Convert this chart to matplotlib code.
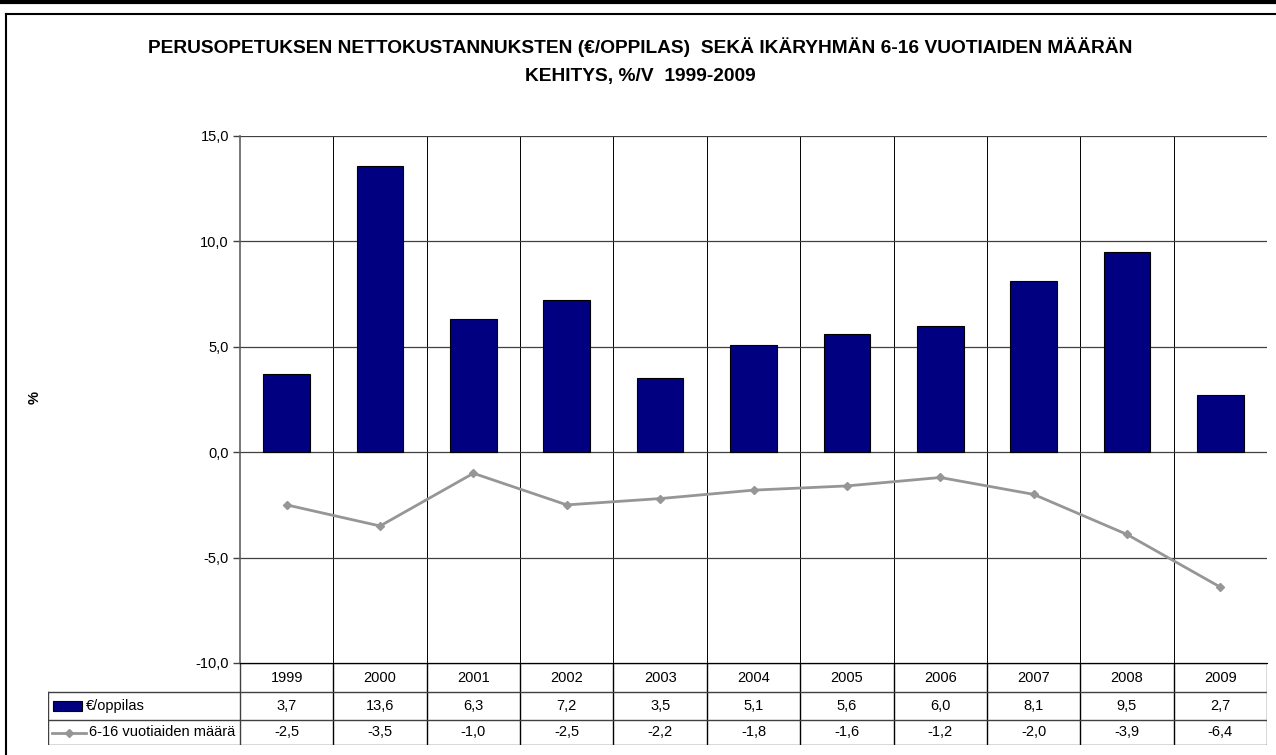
import matplotlib.pyplot as plt
from matplotlib.lines import Line2D
from matplotlib.patches import Rectangle

years = ["1999", "2000", "2001", "2002", "2003", "2004", "2005", "2006", "2007", "2008", "2009"]
cost_per_pupil = [3.7, 13.6, 6.3, 7.2, 3.5, 5.1, 5.6, 6.0, 8.1, 9.5, 2.7]
age_6_16 = [-2.5, -3.5, -1.0, -2.5, -2.2, -1.8, -1.6, -1.2, -2.0, -3.9, -6.4]
series_names = ["€/oppilas", "6-16 vuotiaiden määrä"]
title_lines = ["PERUSOPETUKSEN NETTOKUSTANNUKSTEN (€/OPPILAS)  SEKÄ IKÄRYHMÄN 6-16 VUOTIAIDEN MÄÄRÄN",
               "KEHITYS, %/V  1999-2009"]

W, H = 1276, 755
BAR_COLOR = "#000080"
LINE_COLOR = "#969696"
FS = 10.5

plt.rcParams["font.family"] = ["Liberation Sans", "DejaVu Sans"]


def fx(px):
    return px / W


def fy(py):
    return 1 - py / H


def fmt(v):
    return f"{v:.1f}".replace(".", ",")


fig = plt.figure(figsize=(W / 100, H / 100), dpi=100)

# outer frame
fig.add_artist(Line2D([0, 1], [fy(1.5), fy(1.5)], color="black", lw=3))
fig.add_artist(Line2D([fx(6), fx(6)], [fy(14), 0], color="black", lw=1.5))
fig.add_artist(Line2D([fx(6), 1], [fy(14), fy(14)], color="black", lw=1.5))

for i, line in enumerate(title_lines):
    fig.text(fx(640), fy(47 + 30 * i), line, ha="center", va="center",
             fontsize=13.8, fontweight="bold")

fig.text(fx(35), fy(397), "%", ha="center", va="center", rotation=90,
         fontsize=FS, fontweight="bold")

# main plot area
left, right, top, bottom = 240, 1267, 136, 663
ax = fig.add_axes([fx(left), fy(bottom), fx(right - left), (bottom - top) / H])
x = list(range(len(years)))
ax.bar(x, cost_per_pupil, width=0.5, color=BAR_COLOR, edgecolor="black", lw=0.8, zorder=3)
ax.plot(x, age_6_16, color=LINE_COLOR, lw=2, marker="D", ms=4.5, zorder=4)

ax.set_xlim(-0.5, len(years) - 0.5)
ax.set_ylim(-10, 15)
ax.set_yticks([-10, -5, 0, 5, 10, 15])
ax.set_yticklabels([fmt(v) for v in [-10, -5, 0, 5, 10, 15]], fontsize=FS)
ax.tick_params(axis="y", length=5, width=1, color="#404040", pad=3)
ax.set_xticks([])
ax.yaxis.grid(True, color="#404040", lw=0.9, zorder=0)
for i in range(1, len(years)):
    ax.axvline(i - 0.5, color="black", lw=0.7, zorder=1)
for s in ["top", "right"]:
    ax.spines[s].set_visible(False)
ax.spines["left"].set_color("#606060")
ax.spines["bottom"].set_color("black")
ax.spines["left"].set_linewidth(1.2)

# data table below
tleft, tbottom = 48, 745
unit = (right - left) / len(years)
tab = fig.add_axes([fx(tleft), fy(tbottom), fx(right - tleft), (tbottom - bottom) / H])
xl = -0.5 - (left - tleft) / unit
tab.set_xlim(xl, len(years) - 0.5)
tab.set_ylim(tbottom, bottom)
tab.axis("off")
grid_c = "#404040"
for i in range(len(years) + 1):
    tab.plot([i - 0.5, i - 0.5], [663, 745], color="black" if 0 < i < len(years) else grid_c, lw=1)
tab.plot([xl, xl], [692, 745], color=grid_c, lw=1)
tab.plot([-0.5, len(years) - 0.5], [663, 663], color="black", lw=1)
for yy in [692, 720, 745]:
    tab.plot([xl, len(years) - 0.5], [yy, yy], color=grid_c, lw=1)

for i, y in enumerate(years):
    tab.text(i, 677.5, y, ha="center", va="center", fontsize=FS)
    tab.text(i, 706, fmt(cost_per_pupil[i]), ha="center", va="center", fontsize=FS)
    tab.text(i, 732.5, fmt(age_6_16[i]), ha="center", va="center", fontsize=FS)


def px(p):
    return xl + (p - tleft) / unit


tab.add_patch(Rectangle((px(53), 701), (82 - 53) / unit, 10, facecolor=BAR_COLOR,
                        edgecolor="black", lw=0.8))
tab.text(px(86), 706, series_names[0], ha="left", va="center", fontsize=FS)
tab.plot([px(52), px(86)], [732.5, 732.5], color=LINE_COLOR, lw=2)
tab.plot([px(69)], [732.5], color=LINE_COLOR, marker="D", ms=4)
tab.text(px(89), 732.5, series_names[1], ha="left", va="center", fontsize=FS)

fig.savefig("out.png", dpi=100)
